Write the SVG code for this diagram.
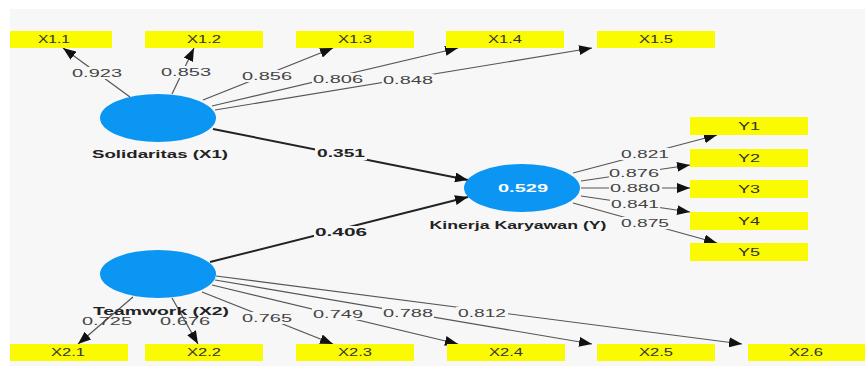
<svg xmlns="http://www.w3.org/2000/svg" width="865" height="378" viewBox="0 0 865 378">
  <style>
    .ind rect { fill: #fafa00; }
    .ind text { font-family: "Liberation Sans", Arial, sans-serif; font-size: 10px; fill: #333; text-anchor: middle; dominant-baseline: central; }
    .lat ellipse { fill: #0a96f2; }
    .lat text.name { font-family: "Liberation Sans", Arial, sans-serif; font-size: 11px; font-weight: bold; fill: #222; text-anchor: middle; dominant-baseline: central; }
    .lat text.r2 { font-family: "Liberation Sans", Arial, sans-serif; font-size: 11px; font-weight: bold; fill: #fff; text-anchor: middle; dominant-baseline: central; }
    .load { stroke: #555; stroke-width: 1.2; fill: none; marker-end: url(#tip); }
    .path { stroke: #222; stroke-width: 2; fill: none; marker-end: url(#tip); }
    .lbl rect { fill: #f7f7f7; }
    .lbl text { font-family: "Liberation Sans", Arial, sans-serif; font-size: 10px; fill: #444; text-anchor: middle; dominant-baseline: central; }
    .lbl text.b { font-weight: bold; fill: #222; font-size: 11px; }
  </style>
  <defs>
    <marker id="tip" markerUnits="userSpaceOnUse" markerWidth="14" markerHeight="10" refX="13" refY="5" orient="auto">
      <path d="M0,0 L13,5 L0,10 Z" fill="#111"/>
    </marker>
  </defs>

  <rect width="865" height="378" fill="#ffffff"/>
  <rect x="10" y="9" width="855" height="357" fill="#f7f7f7"/>

  <!-- connectors -->
  <g id="connectors">
    <line class="load" x1="130" y1="97" x2="63" y2="48"/>
    <line class="load" x1="172" y1="94" x2="194" y2="48"/>
    <line class="load" x1="203" y1="100" x2="333" y2="48"/>
    <line class="load" x1="212" y1="106" x2="458" y2="48"/>
    <line class="load" x1="215" y1="110" x2="592" y2="48"/>

    <line class="load" x1="573" y1="173" x2="717" y2="135"/>
    <line class="load" x1="581" y1="181" x2="690" y2="165"/>
    <line class="load" x1="581" y1="188" x2="690" y2="188"/>
    <line class="load" x1="581" y1="196" x2="690" y2="212"/>
    <line class="load" x1="573" y1="203" x2="717" y2="243"/>

    <line class="load" x1="133" y1="297" x2="78" y2="344"/>
    <line class="load" x1="172" y1="298" x2="198" y2="344"/>
    <line class="load" x1="202" y1="292" x2="333" y2="344"/>
    <line class="load" x1="212" y1="285" x2="458" y2="344"/>
    <line class="load" x1="215" y1="280" x2="592" y2="344"/>
    <line class="load" x1="216" y1="276" x2="742" y2="344"/>

    <line class="path" x1="213" y1="129" x2="468" y2="180"/>
    <line class="path" x1="210" y1="262" x2="468" y2="197"/>

    <!-- path coefficients and loadings -->
    <g class="lbl">
      <rect x="71" y="67" width="52" height="12"/><text x="97" y="73" textLength="50" lengthAdjust="spacingAndGlyphs">0.923</text>
      <rect x="160" y="66" width="52" height="12"/><text x="186" y="72" textLength="50" lengthAdjust="spacingAndGlyphs">0.853</text>
      <rect x="241" y="70" width="52" height="12"/><text x="267" y="76" textLength="50" lengthAdjust="spacingAndGlyphs">0.856</text>
      <rect x="312" y="73" width="52" height="12"/><text x="338" y="79" textLength="50" lengthAdjust="spacingAndGlyphs">0.806</text>
      <rect x="382" y="74" width="52" height="12"/><text x="408" y="80" textLength="50" lengthAdjust="spacingAndGlyphs">0.848</text>

      <rect x="620" y="148" width="50" height="12"/><text x="645" y="154" textLength="48" lengthAdjust="spacingAndGlyphs">0.821</text>
      <rect x="609" y="167" width="51" height="12"/><text x="634" y="173" textLength="50" lengthAdjust="spacingAndGlyphs">0.876</text>
      <rect x="609" y="182" width="53" height="12"/><text x="635" y="188" textLength="50" lengthAdjust="spacingAndGlyphs">0.880</text>
      <rect x="610" y="198" width="50" height="12"/><text x="635" y="204" textLength="48" lengthAdjust="spacingAndGlyphs">0.841</text>
      <rect x="620" y="217" width="50" height="12"/><text x="645" y="223" textLength="48" lengthAdjust="spacingAndGlyphs">0.875</text>

      <text x="107" y="321" textLength="50" lengthAdjust="spacingAndGlyphs">0.725</text>
      <text x="185" y="321" textLength="50" lengthAdjust="spacingAndGlyphs">0.676</text>
      <rect x="241" y="312" width="52" height="12"/><text x="267" y="318" textLength="50" lengthAdjust="spacingAndGlyphs">0.765</text>
      <rect x="312" y="308" width="53" height="12"/><text x="338" y="314" textLength="50" lengthAdjust="spacingAndGlyphs">0.749</text>
      <rect x="382" y="307" width="52" height="12"/><text x="408" y="313" textLength="50" lengthAdjust="spacingAndGlyphs">0.788</text>
      <rect x="456" y="307" width="52" height="12"/><text x="482" y="313" textLength="48" lengthAdjust="spacingAndGlyphs">0.812</text>

      <rect x="315" y="147" width="52" height="13"/><text class="b" x="341" y="153" textLength="48" lengthAdjust="spacingAndGlyphs">0.351</text>
      <rect x="314" y="226" width="54" height="13"/><text class="b" x="341" y="232" textLength="52" lengthAdjust="spacingAndGlyphs">0.406</text>
    </g>
  </g>

  <!-- latent variables -->
  <g id="solidaritas" class="lat">
    <ellipse cx="158" cy="118" rx="58" ry="24"/>
    <text class="name" x="160" y="154" textLength="136" lengthAdjust="spacingAndGlyphs">Solidaritas (X1)</text>
  </g>
  <g id="teamwork" class="lat">
    <ellipse cx="158" cy="274" rx="58" ry="24"/>
    <text class="name" x="161" y="311" textLength="136" lengthAdjust="spacingAndGlyphs">Teamwork (X2)</text>
  </g>
  <g id="kinerja" class="lat">
    <ellipse cx="522" cy="188" rx="58" ry="24"/>
    <text class="r2" x="523" y="188" textLength="50" lengthAdjust="spacingAndGlyphs">0.529</text>
    <text class="name" x="518" y="225" textLength="177" lengthAdjust="spacingAndGlyphs">Kinerja Karyawan (Y)</text>
  </g>

  <!-- indicators of Solidaritas -->
  <g id="x1_1" class="ind"><rect x="10" y="31" width="102" height="17"/><text x="54" y="39.5" textLength="32" lengthAdjust="spacingAndGlyphs">X1.1</text></g>
  <g id="x1_2" class="ind"><rect x="145" y="31" width="118" height="17"/><text x="204" y="39.5" textLength="34" lengthAdjust="spacingAndGlyphs">X1.2</text></g>
  <g id="x1_3" class="ind"><rect x="296" y="31" width="118" height="17"/><text x="355" y="39.5" textLength="34" lengthAdjust="spacingAndGlyphs">X1.3</text></g>
  <g id="x1_4" class="ind"><rect x="446" y="31" width="118" height="17"/><text x="505" y="39.5" textLength="34" lengthAdjust="spacingAndGlyphs">X1.4</text></g>
  <g id="x1_5" class="ind"><rect x="597" y="31" width="118" height="17"/><text x="656" y="39.5" textLength="34" lengthAdjust="spacingAndGlyphs">X1.5</text></g>

  <!-- indicators of Kinerja Karyawan -->
  <g id="y1" class="ind"><rect x="690" y="117" width="118" height="18"/><text x="749" y="126" textLength="22" lengthAdjust="spacingAndGlyphs">Y1</text></g>
  <g id="y2" class="ind"><rect x="690" y="149" width="118" height="18"/><text x="749" y="158" textLength="22" lengthAdjust="spacingAndGlyphs">Y2</text></g>
  <g id="y3" class="ind"><rect x="690" y="180" width="118" height="18"/><text x="749" y="189" textLength="22" lengthAdjust="spacingAndGlyphs">Y3</text></g>
  <g id="y4" class="ind"><rect x="690" y="212" width="118" height="18"/><text x="749" y="221" textLength="22" lengthAdjust="spacingAndGlyphs">Y4</text></g>
  <g id="y5" class="ind"><rect x="690" y="243" width="118" height="18"/><text x="749" y="252" textLength="22" lengthAdjust="spacingAndGlyphs">Y5</text></g>

  <!-- indicators of Teamwork -->
  <g id="x2_1" class="ind"><rect x="10" y="344" width="118" height="17"/><text x="68" y="352.5" textLength="34" lengthAdjust="spacingAndGlyphs">X2.1</text></g>
  <g id="x2_2" class="ind"><rect x="145" y="344" width="118" height="17"/><text x="204" y="352.5" textLength="34" lengthAdjust="spacingAndGlyphs">X2.2</text></g>
  <g id="x2_3" class="ind"><rect x="296" y="344" width="118" height="17"/><text x="355" y="352.5" textLength="34" lengthAdjust="spacingAndGlyphs">X2.3</text></g>
  <g id="x2_4" class="ind"><rect x="447" y="344" width="118" height="17"/><text x="506" y="352.5" textLength="34" lengthAdjust="spacingAndGlyphs">X2.4</text></g>
  <g id="x2_5" class="ind"><rect x="597" y="344" width="118" height="17"/><text x="656" y="352.5" textLength="34" lengthAdjust="spacingAndGlyphs">X2.5</text></g>
  <g id="x2_6" class="ind"><rect x="748" y="344" width="117" height="17"/><text x="806" y="352.5" textLength="34" lengthAdjust="spacingAndGlyphs">X2.6</text></g>
</svg>
